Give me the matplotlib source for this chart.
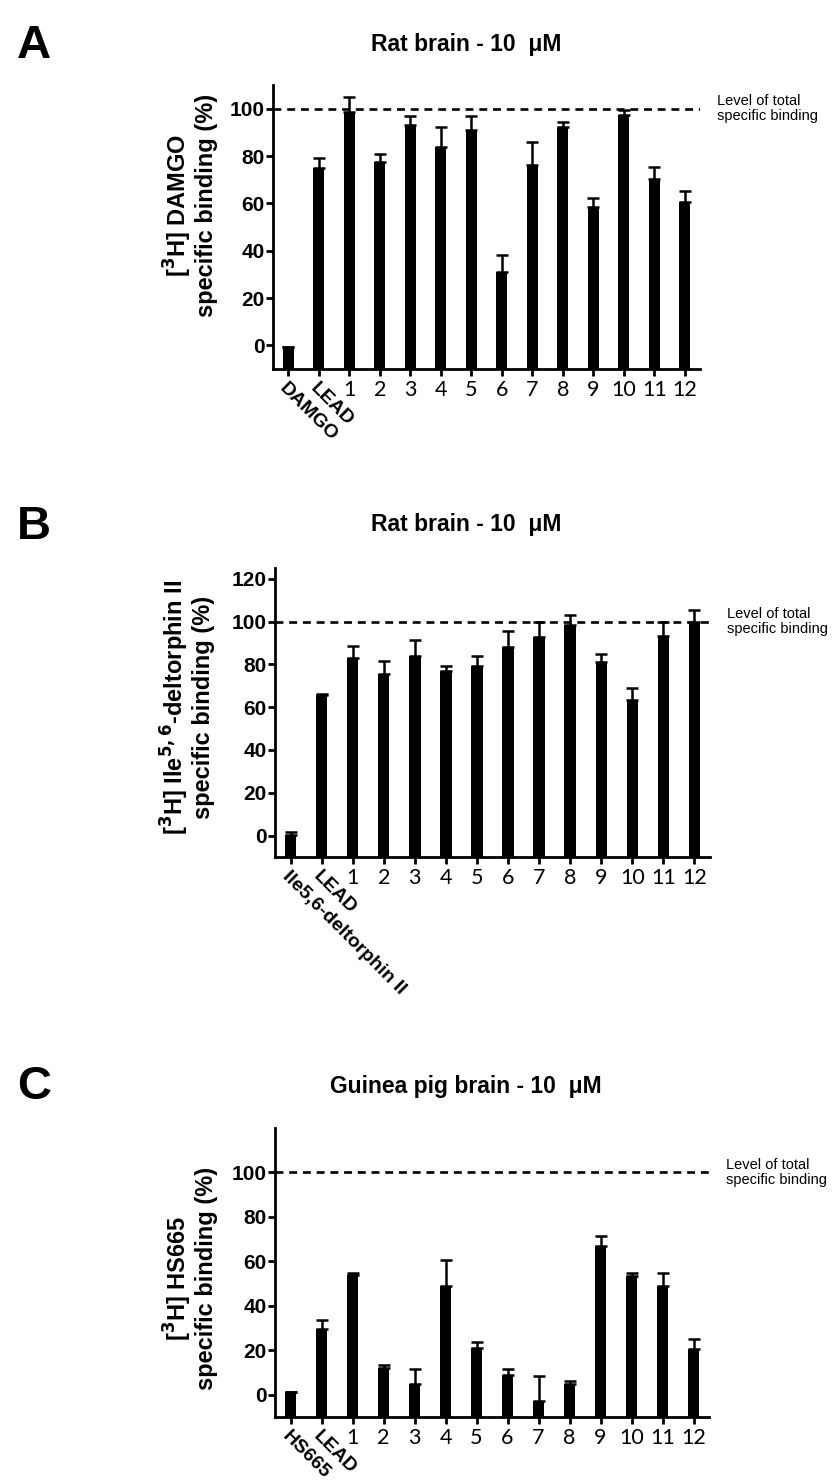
import numpy as np
import matplotlib
matplotlib.use("Agg")
import matplotlib.pyplot as plt

plt.rcParams['font.family'] = ['Liberation Sans', 'DejaVu Sans']

# ---------------- data ----------------
numbers = [str(i) for i in range(1, 13)]

cats_a = ["DAMGO", "LEAD"] + numbers
vals_a = [-0.5, 75, 98.6, 77.4, 93, 84, 91, 31, 76.4, 92.2, 58.3, 97.3, 70.4, 60.5]
errs_a = [0, 4, 6.5, 3.6, 4, 8.4, 6, 7, 9.6, 2.3, 4.1, 2.1, 4.8, 4.5]

cats_b = ["Ile5,6-deltorphin II", "LEAD"] + numbers
vals_b = [0.5, 65.5, 82.9, 75.4, 83.7, 76.7, 79.3, 88.3, 93, 98.3, 80.9, 63.5, 93.3, 100]
errs_b = [1, 0.5, 5.7, 6.2, 7.6, 2.6, 4.8, 7.2, 6.7, 4.7, 4.1, 5.5, 6.5, 5.4]

cats_c = ["HS665", "LEAD"] + numbers
vals_c = [1.2, 29.6, 54, 12, 4.9, 48.8, 21, 8.8, -3, 4.9, 66.7, 53.3, 48.8, 20.4]
errs_c = [0, 4.2, 1, 1.6, 6.6, 11.8, 2.6, 2.6, 11.4, 1.4, 4.5, 1.7, 5.8, 4.7]

titles = ["Rat brain - 10  \u03bcM", "Rat brain - 10  \u03bcM", "Guinea pig brain - 10  \u03bcM"]
letters = ["A", "B", "C"]
ylabels = ["[$^\\mathbf{3}$H] DAMGO\nspecific binding (%)",
           "[$^\\mathbf{3}$H] Ile$^\\mathbf{5,6}$-deltorphin II\nspecific binding (%)",
           "[$^\\mathbf{3}$H] HS665\nspecific binding (%)"]
ylims = [(-10, 110), (-10, 125), (-10, 120)]
yticks = [[0, 20, 40, 60, 80, 100], [0, 20, 40, 60, 80, 100, 120], [0, 20, 40, 60, 80, 100]]
ref_level = 100
ref_text = "Level of total\nspecific binding"

# ---------------- layout (pixels) ----------------
W, H = 832, 1482
fig = plt.figure(figsize=(W / 100, H / 100), dpi=100)

# left, right, top, bottom in pixels
boxes = [(273, 700, 85, 369), (275, 710, 568, 857), (275, 709, 1128, 1417)]
title_y = [45, 525, 1087]
letter_y = [46, 527, 1087]
ylabel_pos = [(190, 205), (187, 707), (190, 1278)]

datasets = [(cats_a, vals_a, errs_a), (cats_b, vals_b, errs_b), (cats_c, vals_c, errs_c)]

for i, (cats, vals, errs) in enumerate(datasets):
    l, r, t, b = boxes[i]
    ax = fig.add_axes([l / W, 1 - b / H, (r - l) / W, (b - t) / H])
    x = np.arange(len(cats))
    ymin, ymax = ylims[i]
    v = np.array(vals, dtype=float)
    e = np.array(errs, dtype=float)
    ax.bar(x, v - ymin, bottom=ymin, width=0.37, color='black', zorder=2)
    ax.errorbar(x, v, yerr=[np.zeros_like(e), e], fmt='none', ecolor='black',
                elinewidth=1.8, capsize=4.5, capthick=1.8, zorder=3)
    ax.axhline(ref_level, color='black', linestyle=(0, (3, 2.2)), linewidth=1.9, zorder=1)
    ax.set_xlim(-0.5, 13.5)
    ax.set_ylim(ymin, ymax)
    ax.set_yticks(yticks[i])
    for s in ['top', 'right']:
        ax.spines[s].set_visible(False)
    for s in ['left', 'bottom']:
        ax.spines[s].set_linewidth(2.0)
    ax.tick_params(axis='both', direction='out', length=5, width=2)
    ax.tick_params(axis='y', labelsize=15, pad=1)
    for lab in ax.get_yticklabels():
        lab.set_fontweight('bold')
    ax.set_xticks(x)
    ax.set_xticklabels(cats)
    for j, lab in enumerate(ax.get_xticklabels()):
        if j < 2:
            lab.set_rotation(-45)
            lab.set_rotation_mode('anchor')
            lab.set_ha('left')
            lab.set_va('top')
            lab.set_fontweight('bold')
            lab.set_fontsize(14)
        else:
            lab.set_fontfamily(['Lato', 'DejaVu Sans'])
            lab.set_fontsize(15.5)
    ax.tick_params(axis='x', pad=3)

    # reference text
    ax.text(1.04, (ref_level - ymin) / (ymax - ymin), ref_text, transform=ax.transAxes,
            ha='left', va='center', fontsize=10.5, linespacing=1.1)

    # title, letter, ylabel
    fig.text(466 / W, 1 - title_y[i] / H, titles[i], ha='center', va='center',
             fontsize=16.5, fontweight='bold',
             family=['Liberation Sans Narrow', 'Liberation Sans', 'DejaVu Sans'])
    fig.text(34 / W, 1 - letter_y[i] / H, letters[i], ha='center', va='center',
             fontsize=34, fontweight='bold',
             family=['Liberation Sans Narrow', 'Liberation Sans', 'DejaVu Sans'])
    fig.text(ylabel_pos[i][0] / W, 1 - ylabel_pos[i][1] / H, ylabels[i], ha='center', va='center',
             rotation=90, fontsize=17, fontweight='bold', multialignment='center', linespacing=1.05)

fig.savefig("out.png", dpi=100)
